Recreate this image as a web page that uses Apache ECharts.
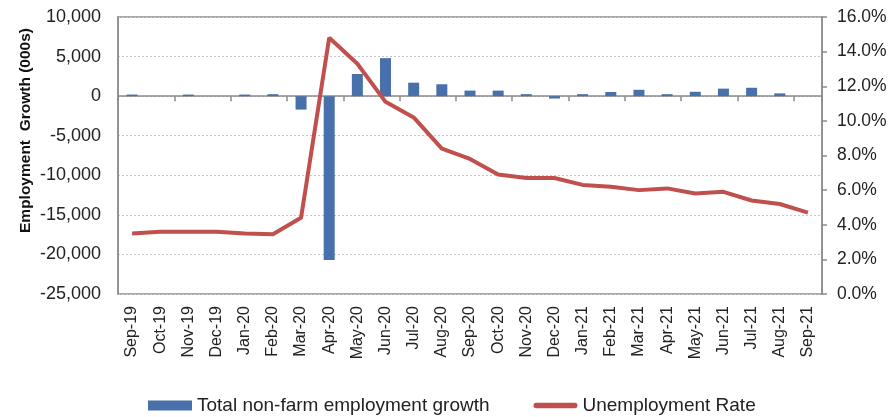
<!DOCTYPE html>
<html>
<head>
<meta charset="utf-8">
<script src="https://cdn.jsdelivr.net/npm/echarts@6/dist/echarts.min.js"></script>
<style>
  html, body { margin: 0; padding: 0; background: #fff; }
  #chart { width: 892px; height: 417px; }
</style>
</head>
<body>
<div id="chart"></div>
<script>
const months = ['Sep-19', 'Oct-19', 'Nov-19', 'Dec-19', 'Jan-20', 'Feb-20', 'Mar-20', 'Apr-20', 'May-20',
  'Jun-20', 'Jul-20', 'Aug-20', 'Sep-20', 'Oct-20', 'Nov-20', 'Dec-20', 'Jan-21', 'Feb-21', 'Mar-21',
  'Apr-21', 'May-21', 'Jun-21', 'Jul-21', 'Aug-21', 'Sep-21']

// total non-farm employment growth, 000s
const employmentGrowth = [200, 0, 200, 0, 200, 250, -1700, -20700, 2800, 4800, 1700, 1500, 700,
  700, 250, -300, 250, 520, 800, 250, 550, 950, 1060, 350, 0]

// unemployment rate, %
const unemploymentRate = [3.5, 3.6, 3.6, 3.6, 3.5, 3.45, 4.4, 14.8, 13.3, 11.1, 10.2, 8.4, 7.8,
  6.9, 6.7, 6.7, 6.3, 6.2, 6.0, 6.1, 5.8, 5.9, 5.4, 5.2, 4.7]

const chart = echarts.init(document.getElementById('chart'))
const font = 'Liberation Sans, Arial, sans-serif'
const axisGray = '#8c8c8c'

// 10000 -> "10,000"
const withCommas = v => String(v).replace(/\B(?=(\d{3})+(?!\d))/g, ',')

chart.setOption({
  animation: false,
  textStyle: { fontFamily: font },
  grid: {
    left: 118, right: 70, top: 17, bottom: 123,
    show: true, borderColor: axisGray, borderWidth: 1.5
  },
  legend: {
    top: 396,
    left: 148,
    padding: 0,
    itemWidth: 44,
    itemHeight: 10,
    itemGap: 44,
    textStyle: { fontSize: 19, color: '#222', fontFamily: font },
    data: [
      { name: 'Total non-farm employment growth', icon: 'rect' },
      {
        name: 'Unemployment Rate',
        icon: 'path://M3,0 L47,0 A3,3 0 0 1 47,6 L3,6 A3,3 0 0 1 3,0 Z',
        itemStyle: { color: '#c0504d' }
      }
    ]
  },
  xAxis: [
    {
      type: 'category',
      data: months,
      position: 'bottom',
      axisLine: { show: false, onZero: false },
      axisTick: { show: false },
      axisLabel: { rotate: 90, fontSize: 16, color: '#222', margin: 12, interval: 0 }
    },
    {
      type: 'category',
      data: months,
      position: 'bottom',
      axisLine: { show: true, onZero: true, lineStyle: { color: axisGray, width: 1.5 } },
      axisTick: { show: true, inside: false, length: 5, lineStyle: { color: axisGray, width: 1.5 } },
      axisLabel: { show: false }
    }
  ],
  yAxis: [
    {
      type: 'value',
      min: -25000, max: 10000, interval: 5000,
      name: 'Employment  Growth (000s)',
      nameLocation: 'middle',
      nameGap: 84,
      nameMoveOverlap: false,
      nameTextStyle: { fontSize: 15.5, fontWeight: 'bold', color: '#111', padding: [0, 0, 0, 50] },
      axisLine: { show: true, lineStyle: { color: axisGray, width: 1.5 } },
      axisTick: { show: false },
      axisLabel: { fontSize: 18, color: '#222', margin: 17, formatter: withCommas },
      splitLine: { show: true, lineStyle: { color: '#c8c8c8', type: [2, 2], width: 1 } }
    },
    {
      type: 'value',
      min: 0, max: 16, interval: 2,
      position: 'right',
      axisLine: { show: true, lineStyle: { color: axisGray, width: 1.5 } },
      axisTick: { show: true, length: 5, lineStyle: { color: axisGray, width: 1.5 } },
      axisLabel: { fontSize: 17.5, color: '#222', margin: 15, formatter: v => v.toFixed(1) + '%' },
      splitLine: { show: false }
    }
  ],
  series: [
    {
      name: 'Total non-farm employment growth',
      type: 'bar',
      xAxisIndex: 1,
      yAxisIndex: 0,
      barWidth: 11,
      itemStyle: { color: '#4870aa' },
      data: employmentGrowth
    },
    {
      name: 'Unemployment Rate',
      type: 'line',
      xAxisIndex: 1,
      yAxisIndex: 1,
      symbol: 'none',
      lineStyle: { color: '#c0504d', width: 4 },
      itemStyle: { color: '#c0504d' },
      data: unemploymentRate
    }
  ]
})
</script>
</body>
</html>
